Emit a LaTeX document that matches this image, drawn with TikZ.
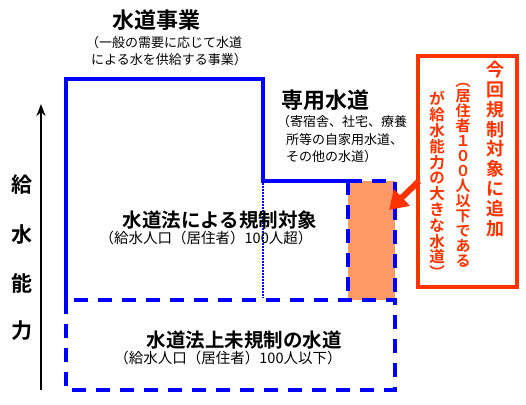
\documentclass[tikz,border=0pt]{standalone}
\usepackage{fontspec}
\newfontfamily\jp{Noto Sans CJK JP}[BoldFont={Noto Sans CJK JP Bold}]
\usetikzlibrary{arrows.meta}
\definecolor{bl}{HTML}{0000FF}
\definecolor{rd}{HTML}{FF3300}
\definecolor{org}{HTML}{FF9966}
\begin{document}
\begin{tikzpicture}[x=1pt,y=-1pt,
  blueline/.style={draw=bl,line width=4pt},
  bluedash/.style={draw=bl,line width=4pt,dash pattern=on 14pt off 10pt},
  headtxt/.style={font=\jp\bfseries\fontsize{22}{24}\selectfont,inner sep=0pt},
  midtxt/.style={font=\jp\bfseries\fontsize{19.5}{22}\selectfont,inner sep=0pt},
  subtxt/.style={font=\jp\fontsize{13}{15}\selectfont,inner sep=0pt},
  subtxtb/.style={font=\jp\fontsize{14.5}{16}\selectfont,inner sep=0pt},
  axtxt/.style={font=\jp\bfseries\fontsize{21}{23}\selectfont,inner sep=0pt},
  redcol/.style={text=rd,align=center,inner sep=0pt}]
\useasboundingbox (0,0) rectangle (526,404);
% orange box
\node[fill=org,minimum width=47pt,minimum height=119pt,inner sep=0pt] (orange) at (371.5,240.5) {};
% blue outlines
\draw[blueline,line join=miter] (66,300) -- (66,79) -- (263,79) -- (263,181) -- (348,181);
\draw[bluedash] (348,181) -- (395,181) -- (395,300);
\draw[bluedash] (348,181) -- (348,300);
\draw[bluedash] (66,300) rectangle (395,390);
\draw[bl,line width=1.3pt,dash pattern=on 1.5pt off 1.5pt] (263,183) -- (263,298);
% axis
\coordinate (axB) at (41,390);
\coordinate (axT) at (41,104);
\draw[line width=2pt,-{Stealth[length=12pt,width=9pt]}] (axB) -- (axT);
\node[axtxt] (ax1) at (22,185) {給};
\node[axtxt] (ax2) at (22,235) {水};
\node[axtxt] (ax3) at (22,283) {能};
\node[axtxt] (ax4) at (22,331) {力};
% texts
\node[headtxt] (t1) at (156,20) {水道事業};
\node[subtxt,anchor=west] (t1a) at (86,43) {（一般の需要に応じて水道};
\node[subtxt,anchor=west] (t1b) at (91,60) {による水を供給する事業）};
\node[headtxt] (t2) at (325,100) {専用水道};
\node[subtxt,anchor=west] (t2a) at (277,122) {（寄宿舎、社宅、療養};
\node[subtxt,anchor=west] (t2b) at (286,140) {所等の自家用水道、};
\node[subtxt,anchor=west] (t2c) at (286,157) {その他の水道）};
\node[midtxt] (t3) at (220,220) {水道法による規制対象};
\node[subtxtb] (t3a) at (206,238) {（給水人口（居住者）100人超）};
\node[midtxt] (t4) at (244,340) {水道法上未規制の水道};
\node[subtxtb] (t4a) at (228,358) {（給水人口（居住者）100人以下）};
% red box
\node[draw=rd,line width=4pt,minimum width=99pt,minimum height=231pt,inner sep=0pt] (redbox) at (467,171) {};
\node[redcol,font=\jp\bfseries\fontsize{18}{19.8}\selectfont] (r1) at (495,149) {今\\回\\規\\制\\対\\象\\に\\追\\加};
\node[redcol,font=\jp\bfseries\fontsize{15}{15}\selectfont] (r2) at (463,175.5) {︵\\居\\住\\者\\１\\０\\０\\人\\以\\下\\で\\あ\\る};
\node[redcol,font=\jp\bfseries\fontsize{15.5}{15.8}\selectfont] (r3) at (437,185) {が\\給\\水\\能\\力\\の\\大\\き\\な\\水\\道\\︶};
% arrow
\coordinate (arrS) at (419,181);
\coordinate (arrE) at (389,210);
\draw[rd,line width=6pt,-{Triangle[length=18pt,width=22pt]}] (arrS) -- (arrE);
\end{tikzpicture}
\end{document}
